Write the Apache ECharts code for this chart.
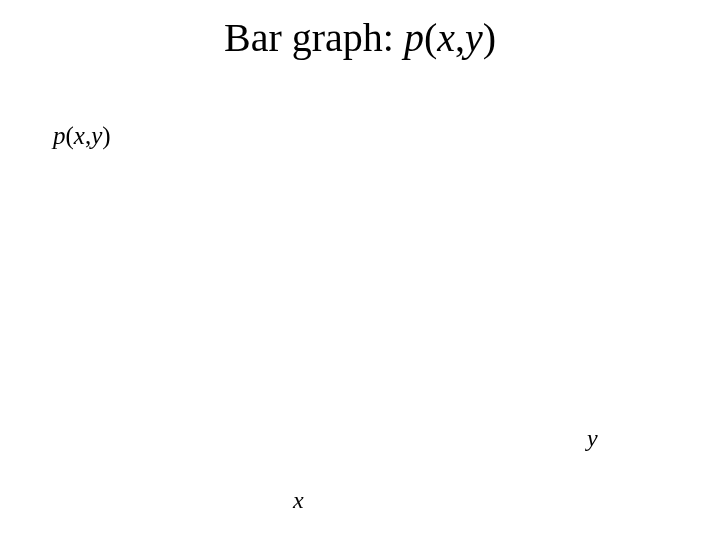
<!DOCTYPE html>
<html><head><meta charset="utf-8">
<script src="https://cdn.jsdelivr.net/npm/echarts@6/dist/echarts.min.js"></script>
<style>html,body{margin:0;padding:0;background:#fff}#c{width:720px;height:540px}</style>
</head><body><div id="c"></div>
<script>
// The reference shows an empty bar-graph frame: only the title and axis labels are visible.
const titleText = ['Bar graph: ', 'p', '(', 'x', ',', 'y', ')'];
const zLabel = 'p(x,y)';
const xLabel = 'x';
const yLabel = 'y';
const categories = [];
const values = [];

const serif = '"Liberation Serif", "Times New Roman", serif';
const chart = echarts.init(document.getElementById('c'));
chart.setOption({
  backgroundColor: '#fff',
  animation: false,
  title: [
    {
      text: '{n|Bar graph: }{i|p}{n|(}{i|x}{n|,}{i|y}{n|)}',
      left: 'center', top: 15,
      textStyle: {
        fontWeight: 'normal',
        rich: {
          n: {fontFamily: serif, fontSize: 40, fontWeight: 'normal', color: '#000'},
          i: {fontFamily: serif, fontSize: 40, fontWeight: 'normal', fontStyle: 'italic', color: '#000'}
        }
      }
    },
    {
      text: '{i|p}{n|(}{i|x}{n|,}{i|y}{n|)}',
      left: 48, top: 120,
      textStyle: {fontWeight: 'normal', rich: {
        n: {fontFamily: serif, fontSize: 25, fontWeight: 'normal', color: '#000'},
        i: {fontFamily: serif, fontSize: 25, fontWeight: 'normal', fontStyle: 'italic', color: '#000'}
      }}
    },
    {
      text: yLabel, left: 582, top: 423,
      textStyle: {fontFamily: serif, fontSize: 24, fontStyle: 'italic', fontWeight: 'normal', color: '#000'}
    },
    {
      text: xLabel, left: 288, top: 485,
      textStyle: {fontFamily: serif, fontSize: 24, fontStyle: 'italic', fontWeight: 'normal', color: '#000'}
    }
  ],
  grid: {left: 120, right: 150, top: 160, bottom: 110},
  xAxis: {type: 'category', data: categories, show: false},
  yAxis: {type: 'value', show: false},
  series: [{type: 'bar', data: values}]
});
</script></body></html>
